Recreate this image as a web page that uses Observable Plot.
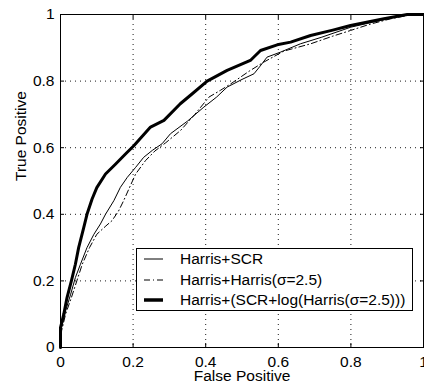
<!DOCTYPE html>
<html>
<head>
<meta charset="utf-8">
<script src="https://cdn.jsdelivr.net/npm/d3@7"></script>
<script src="https://cdn.jsdelivr.net/npm/@observablehq/plot@0.6"></script>
<style>
  html, body { margin: 0; padding: 0; background: #fff; }
  #wrap { position: relative; width: 424px; height: 388px; font-family: "Liberation Sans", Arial, Helvetica, sans-serif; }
  #legend { position: absolute; left: 136px; top: 248px; width: 275px; height: 61px; border: 1px solid #000; background: #fff; }
  .row { position: absolute; left: 0; height: 20px; display: flex; align-items: center; }
  .row svg { margin-left: 7px; }
  .row span { position: absolute; left: 43px; font-size: 15.5px; white-space: nowrap; color: #000; }
</style>
</head>
<body>
<div id="wrap"></div>
<script>
// Data (False Positive rate, True Positive rate)
const seriesNames = ["Harris+SCR", "Harris+Harris(σ=2.5)", "Harris+(SCR+log(Harris(σ=2.5)))"];

const fprHarrisSCR = [0, 0.003, 0.014, 0.028, 0.041, 0.055, 0.073, 0.092, 0.11, 0.124, 0.147, 0.165, 0.184, 0.207, 0.229, 0.253, 0.28, 0.303, 0.35, 0.395, 0.43, 0.459, 0.5, 0.533, 0.55, 0.569, 0.606, 0.661, 0.72, 0.8, 0.9, 0.96, 1];
const tprHarrisSCR = [0, 0.06, 0.11, 0.16, 0.21, 0.25, 0.30, 0.34, 0.371, 0.40, 0.441, 0.481, 0.511, 0.541, 0.571, 0.592, 0.612, 0.642, 0.68, 0.722, 0.752, 0.782, 0.805, 0.822, 0.845, 0.872, 0.887, 0.912, 0.932, 0.962, 0.987, 1, 1];

const fprHarrisHarris = [0, 0.003, 0.014, 0.03, 0.045, 0.06, 0.08, 0.1, 0.125, 0.142, 0.16, 0.174, 0.19, 0.207, 0.234, 0.26, 0.29, 0.331, 0.37, 0.409, 0.44, 0.468, 0.52, 0.56, 0.615, 0.689, 0.75, 0.799, 0.85, 0.909, 0.97, 1];
const tprHarrisHarris = [0, 0.05, 0.10, 0.15, 0.20, 0.25, 0.30, 0.34, 0.365, 0.381, 0.41, 0.441, 0.48, 0.521, 0.561, 0.59, 0.615, 0.652, 0.70, 0.752, 0.772, 0.791, 0.83, 0.857, 0.89, 0.912, 0.935, 0.952, 0.97, 0.987, 1, 1];

const fprCombined = [0, 0, 0.009, 0.018, 0.030, 0.041, 0.05, 0.064, 0.073, 0.087, 0.10, 0.124, 0.152, 0.179, 0.202, 0.248, 0.285, 0.33, 0.363, 0.404, 0.459, 0.523, 0.551, 0.597, 0.634, 0.689, 0.75, 0.799, 0.85, 0.891, 0.955, 1];
const tprCombined = [0, 0.06, 0.10, 0.15, 0.20, 0.25, 0.30, 0.36, 0.40, 0.446, 0.48, 0.521, 0.551, 0.581, 0.606, 0.662, 0.682, 0.732, 0.762, 0.80, 0.832, 0.862, 0.892, 0.909, 0.917, 0.937, 0.953, 0.967, 0.978, 0.987, 1, 1];

const tickValues = [0, 0.2, 0.4, 0.6, 0.8, 1];
const gridValues = [0.2, 0.4, 0.6, 0.8];
const xLabel = "False Positive";
const yLabel = "True Positive";

const toRows = (xs, ys) => xs.map((x, i) => ({x, y: ys[i]}));
const dA = toRows(fprHarrisSCR, tprHarrisSCR);
const dB = toRows(fprHarrisHarris, tprHarrisHarris);
const dC = toRows(fprCombined, tprCombined);

const font = "Liberation Sans, Arial, Helvetica, sans-serif";
const fs = 15.5;

const chart = Plot.plot({
  width: 424,
  height: 388,
  marginLeft: 60,
  marginRight: 1,
  marginTop: 14,
  marginBottom: 41,
  style: {fontFamily: font, fontSize: fs + "px", color: "#000", background: "#fff", overflow: "visible"},
  x: {domain: [0, 1]},
  y: {domain: [0, 1]},
  marks: [
    Plot.gridX(gridValues, {stroke: "#000", strokeOpacity: 0.9, strokeDasharray: "1,4"}),
    Plot.gridY(gridValues, {stroke: "#000", strokeOpacity: 0.9, strokeDasharray: "1,4"}),
    Plot.axisX(tickValues, {anchor: "bottom", tickSize: 0, tickPadding: 8, tickFormat: d3.format("~g"), label: null, fontSize: fs}),
    Plot.axisY(tickValues, {anchor: "left", tickSize: 0, tickPadding: 6, tickFormat: d3.format("~g"), label: null, fontSize: fs}),
    Plot.axisX(tickValues, {anchor: "bottom", tickSize: -4, text: null, label: null}),
    Plot.axisX(tickValues, {anchor: "top", tickSize: -4, text: null, label: null}),
    Plot.axisY(tickValues, {anchor: "left", tickSize: -4, text: null, label: null}),
    Plot.axisY(tickValues, {anchor: "right", tickSize: -4, text: null, label: null}),
    Plot.line(dB, {x: "x", y: "y", stroke: "#000", strokeWidth: 1, strokeDasharray: "6,3,1,3"}),
    Plot.line(dA, {x: "x", y: "y", stroke: "#000", strokeWidth: 1}),
    Plot.line(dC, {x: "x", y: "y", stroke: "#000", strokeWidth: 3}),
    Plot.frame({stroke: "#000", strokeWidth: 1}),
    Plot.text([xLabel], {frameAnchor: "bottom", dy: 33, fontSize: fs, fill: "#000"}),
    Plot.text([yLabel], {frameAnchor: "left", dx: -39, rotate: -90, fontSize: fs, fill: "#000"})
  ]
});

const wrap = document.getElementById("wrap");
wrap.appendChild(chart);

// Legend (MATLAB-style box inside the axes)
const legend = document.createElement("div");
legend.id = "legend";
const styles = [
  {w: 1, dash: null},
  {w: 1, dash: "6,3,1,3"},
  {w: 3.5, dash: null}
];
const rowTops = [0, 21, 41];
seriesNames.forEach((name, i) => {
  const row = document.createElement("div");
  row.className = "row";
  row.style.top = rowTops[i] + "px";
  row.innerHTML = `<svg width="20" height="20"><line x1="0" x2="19" y1="10" y2="10" stroke="#000" stroke-width="${styles[i].w}" ${styles[i].dash ? `stroke-dasharray="${styles[i].dash}"` : ""}/></svg><span>${name}</span>`;
  legend.appendChild(row);
});
wrap.appendChild(legend);
</script>
</body>
</html>
